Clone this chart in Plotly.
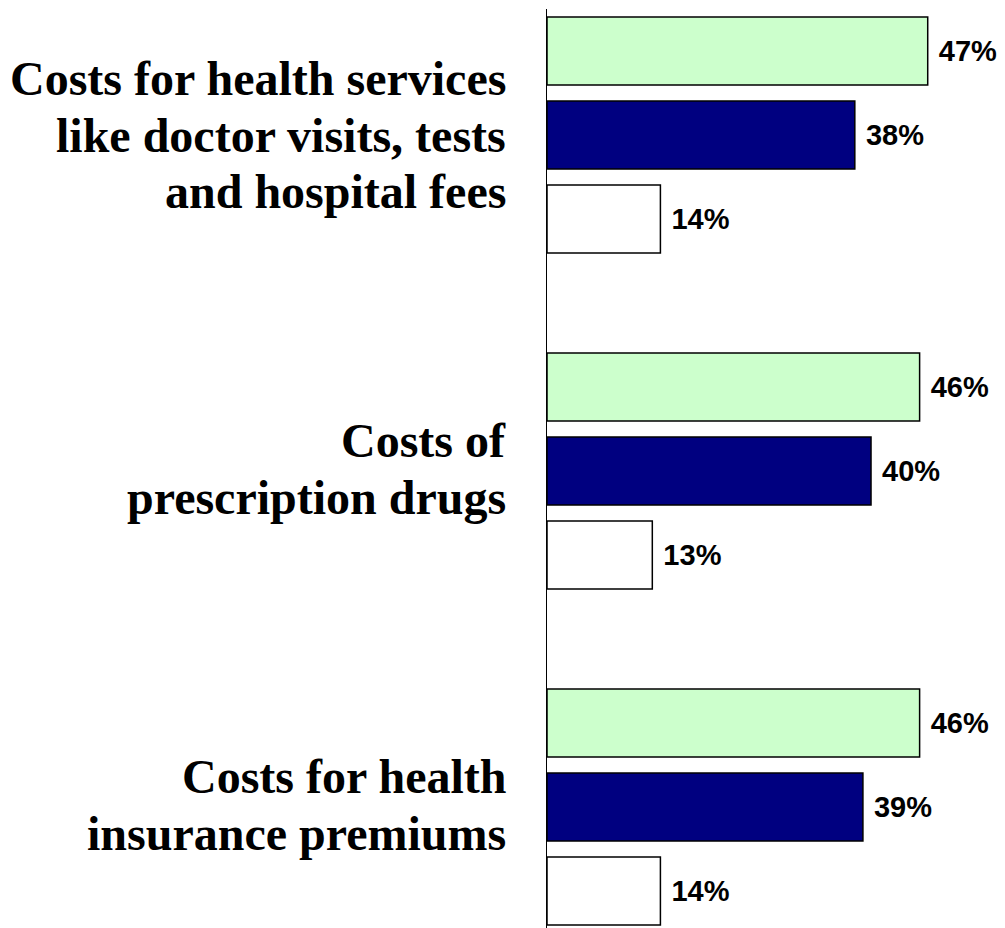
import plotly.graph_objects as go

categories = [
    "Costs for health services like doctor visits, tests and hospital fees",
    "Costs of prescription drugs",
    "Costs for health insurance premiums",
]
category_lines = [
    ["Costs for health services", "like doctor visits, tests", "and hospital fees"],
    ["Costs of", "prescription drugs"],
    ["Costs for health", "insurance premiums"],
]
series_names = ["Series 1", "Series 2", "Series 3"]
series_values = [
    [47, 46, 46],
    [38, 40, 39],
    [14, 13, 14],
]
series_colors = ["#CCFFCC", "#000080", "#FFFFFF"]

fig = go.Figure()
for name, vals, col in zip(series_names, series_values, series_colors):
    fig.add_trace(go.Bar(
        y=categories, x=vals, name=name, orientation="h",
        marker=dict(color=col, line=dict(color="#000000", width=1.5)),
        text=[f"<b>\u00a0{v}%</b>" for v in vals], textposition="outside",
        textfont=dict(family="Liberation Sans, Arial, sans-serif", size=29, color="#000000"),
        constraintext="none",
        cliponaxis=False,
    ))

line_step = 56.5
for cat, lines in zip(categories, category_lines):
    n = len(lines)
    for i, ln in enumerate(lines):
        shift = ((n - 1) / 2 - i) * line_step + (2 if n == 2 else 0)
        fig.add_annotation(
            text=f"<b>{ln}</b>", xref="paper", x=0, xanchor="right", xshift=-39,
            yref="y", y=cat, yanchor="middle", yshift=shift, showarrow=False,
            font=dict(family="Liberation Serif, Times New Roman, serif", size=48, color="#000000"),
        )

fig.update_layout(
    width=997, height=920,
    margin=dict(l=539, r=0, t=1, b=0),
    paper_bgcolor="white", plot_bgcolor="white",
    barmode="group", bargap=0.25, bargroupgap=0.19,
    showlegend=False,
    uniformtext=dict(mode=False),
    xaxis=dict(range=[0, 56.54], visible=False, showgrid=False, zeroline=False),
    yaxis=dict(range=[2.360, -0.375], showticklabels=False, ticks="", showgrid=False,
               zeroline=False, showline=True, linecolor="#000000", linewidth=1.2),
    font=dict(family="Liberation Sans, Arial, sans-serif"),
)

fig.write_html("out.html")
